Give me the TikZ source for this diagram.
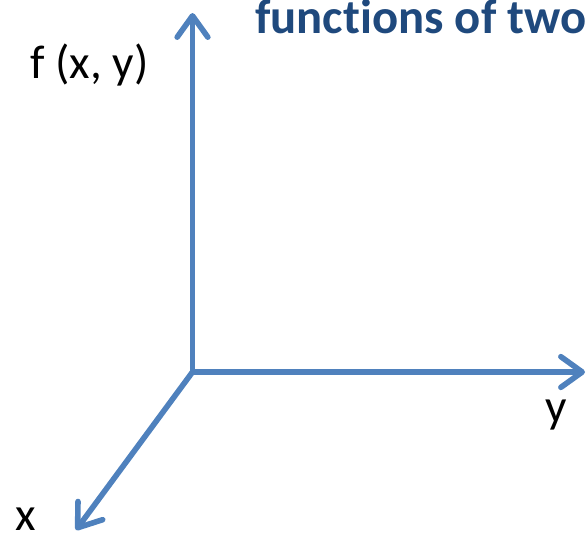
\documentclass[tikz,border=0pt]{standalone}
\usepackage{fontspec}
\setmainfont{Carlito}[Ligatures=NoCommon]
\usetikzlibrary{arrows.meta}
\definecolor{axisBlue}{RGB}{79,129,189}
\definecolor{titleNavy}{RGB}{31,73,125}

\begin{document}
\begin{tikzpicture}[x=0.75pt, y=-0.75pt,
    axis/.style={axisBlue, line width=4.2pt, line cap=round,
      -{Straight Barb[length=16pt, width=23pt, line cap=round, line join=round]}},
    lbl/.style={anchor=base west, inner sep=0pt, text depth=0pt, font=\fontsize{35.5}{42}\selectfont}]
  \useasboundingbox (0,0) rectangle (588,537);
  % axes
  \coordinate (O) at (192.5,372);
  \coordinate (ftip) at (192.5,13);
  \coordinate (ytip) at (585,372);
  \coordinate (xtip) at (76,530);
  \draw[axis] (O) -- (ftip);
  \draw[axis] (O) -- (ytip);
  \draw[axis] (O) -- (xtip);
  % labels
  \node[lbl] (flabel) at (30,78) {f (x, y)};
  \node[lbl] (ylabel) at (545,422) {y};
  \node[lbl] (xlabel) at (15,530) {x};
  \node[lbl, text height=24pt, font=\fontsize{36.5}{42}\selectfont\bfseries, text=titleNavy] (title) at (255,33) {functions of two};
\end{tikzpicture}
\end{document}
